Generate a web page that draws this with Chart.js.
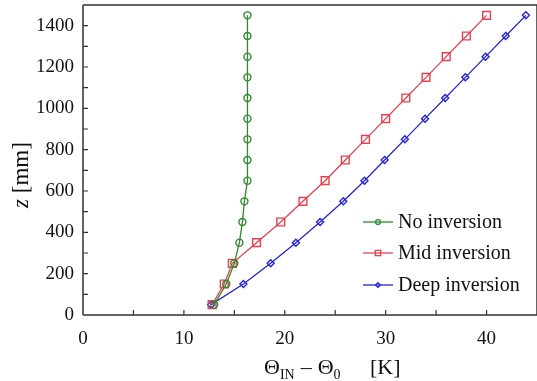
<!DOCTYPE html>
<html>
<head>
<meta charset="utf-8">
<script src="https://cdn.jsdelivr.net/npm/chart.js@4.4.1/dist/chart.umd.min.js"></script>
<style>
  html, body { margin: 0; background: #fff; }
  #wrap { width: 537px; height: 381px; }
</style>
</head>
<body>
<div id="wrap"><canvas id="c"></canvas></div>
<script>
// heights z [mm]
const zLevels = [50, 150, 250, 350, 450, 550, 650, 750, 850, 950, 1050, 1150, 1250, 1350, 1450];
// Theta_IN - Theta_0 [K]
const noInversion   = [13.0, 14.2, 15.0, 15.5, 15.8, 16.0, 16.3, 16.3, 16.3, 16.3, 16.3, 16.3, 16.3, 16.3, 16.3];
const midInversion  = [12.8, 14.0, 14.8, 17.2, 19.6, 21.8, 24.0, 26.0, 28.0, 30.0, 32.0, 34.0, 36.0, 38.0, 40.0];
const deepInversion = [12.7, 15.9, 18.6, 21.1, 23.5, 25.8, 27.9, 29.9, 31.9, 33.9, 35.9, 37.9, 39.9, 41.9, 43.9];
const seriesNames = ['No inversion', 'Mid inversion', 'Deep inversion'];
const xTicks = [0, 10, 20, 30, 40];
const yTicks = [0, 200, 400, 600, 800, 1000, 1200, 1400];

const SERIF = '"Liberation Serif", "Times New Roman", serif';
const colors = ['#2e8b2e', '#e8404f', '#2424dc'];
const styles = ['circle', 'rect', 'rectRot'];
const radii = [3.5, 5.5, 3.5];

function pts(xs) { return zLevels.map((z, i) => ({ x: xs[i], y: z })); }

const datasets = [noInversion, midInversion, deepInversion].map((xs, k) => ({
  label: seriesNames[k],
  data: pts(xs),
  borderColor: colors[k],
  borderWidth: 1.3,
  pointStyle: styles[k],
  pointRadius: radii[k],
  pointBorderColor: colors[k],
  pointBorderWidth: 1.4,
  pointBackgroundColor: 'rgba(0,0,0,0)',
  tension: 0
}));

// frame, inward ticks, axis titles and legend
const decor = {
  id: 'decor',
  afterDraw(chart) {
    const { ctx, chartArea: a, scales: { x, y } } = chart;
    ctx.save();
    ctx.strokeStyle = '#333';
    ctx.lineWidth = 1.5;
    ctx.beginPath();
    ctx.moveTo(a.left, a.top); ctx.lineTo(a.right, a.top);
    ctx.moveTo(a.left, a.top); ctx.lineTo(a.left, a.bottom);
    ctx.moveTo(a.left, a.bottom); ctx.lineTo(a.right, a.bottom);
    ctx.moveTo(a.right, a.top); ctx.lineTo(a.right, a.bottom);
    ctx.stroke();

    ctx.lineWidth = 1.2;
    ctx.beginPath();
    for (let v = 5; v < 45; v += 5) {
      const px = x.getPixelForValue(v);
      ctx.moveTo(px, a.bottom); ctx.lineTo(px, a.bottom - 5);
    }
    for (let v = 100; v < 1500; v += 100) {
      const py = y.getPixelForValue(v);
      ctx.moveTo(a.left, py); ctx.lineTo(a.left + 5, py);
    }
    ctx.stroke();

    // x title: Θ_IN – Θ_0   [K]
    ctx.fillStyle = '#111';
    ctx.textBaseline = 'alphabetic';
    ctx.textAlign = 'left';
    const big = '22px ' + SERIF, small = '14px ' + SERIF;
    const base = 374;
    let cx = 264;
    ctx.font = big; ctx.fillText('\u0398', cx, base); cx += ctx.measureText('\u0398').width;
    ctx.font = small; ctx.fillText('IN', cx, base + 5); cx += ctx.measureText('IN').width + 6;
    ctx.font = big; ctx.fillText('\u2013', cx, base); cx += ctx.measureText('\u2013').width + 6;
    ctx.fillText('\u0398', cx, base); cx += ctx.measureText('\u0398').width;
    ctx.font = small; ctx.fillText('0', cx, base + 5);
    ctx.font = big; ctx.fillText('[K]', 370, base);

    // y title: z [mm]
    ctx.save();
    ctx.translate(28, 175);
    ctx.rotate(-Math.PI / 2);
    ctx.font = 'italic 23px ' + SERIF;
    const zw = ctx.measureText('z').width;
    ctx.font = '23px ' + SERIF;
    const rest = ' [mm]';
    const rw = ctx.measureText(rest).width;
    let sx = -(zw + rw) / 2;
    ctx.font = 'italic 23px ' + SERIF; ctx.fillText('z', sx, 0);
    ctx.font = '23px ' + SERIF; ctx.fillText(rest, sx + zw, 0);
    ctx.restore();

    // legend
    const rows = [222, 253, 285];
    chart.data.datasets.forEach((ds, k) => {
      const ly = rows[k];
      ctx.strokeStyle = ds.borderColor;
      ctx.fillStyle = 'rgba(0,0,0,0)';
      ctx.lineWidth = 1.3;
      ctx.beginPath(); ctx.moveTo(363, ly); ctx.lineTo(393, ly); ctx.stroke();
      ctx.lineWidth = 1.3;
      Chart.helpers.drawPoint(ctx, { pointStyle: ds.pointStyle, radius: ds.pointRadius * 0.7, borderWidth: 1.3 }, 378, ly);
      ctx.fillStyle = '#111';
      ctx.font = '20px ' + SERIF;
      ctx.textBaseline = 'middle';
      ctx.fillText(ds.label, 398, ly + 1);
    });
    ctx.restore();
  }
};

new Chart(document.getElementById('c'), {
  type: 'line',
  data: { datasets },
  options: {
    responsive: true,
    maintainAspectRatio: false,
    animation: false,
    layout: { autoPadding: false, padding: { top: 5, right: 0, left: 0, bottom: 0 } },
    plugins: { legend: { display: false }, tooltip: { enabled: false } },
    scales: {
      x: {
        type: 'linear', min: 0, max: 45,
        grid: { display: false, drawTicks: false },
        border: { display: false },
        afterBuildTicks: s => { s.ticks = xTicks.map(v => ({ value: v })); },
        afterFit: s => { s.height = 66; s.paddingLeft = 0; s.paddingRight = 0; },
        ticks: { color: '#111', padding: 13, maxRotation: 0, font: { family: SERIF, size: 19 }, callback: v => String(v) }
      },
      y: {
        type: 'linear', min: 0, max: 1500,
        grid: { display: false, drawTicks: false },
        border: { display: false },
        afterBuildTicks: s => { s.ticks = yTicks.map(v => ({ value: v })); },
        afterFit: s => { s.width = 83; s.paddingTop = 0; s.paddingBottom = 0; },
        ticks: { color: '#111', padding: 9, font: { family: SERIF, size: 19 }, callback: v => String(v) }
      }
    }
  },
  plugins: [decor]
});
</script>
</body>
</html>
